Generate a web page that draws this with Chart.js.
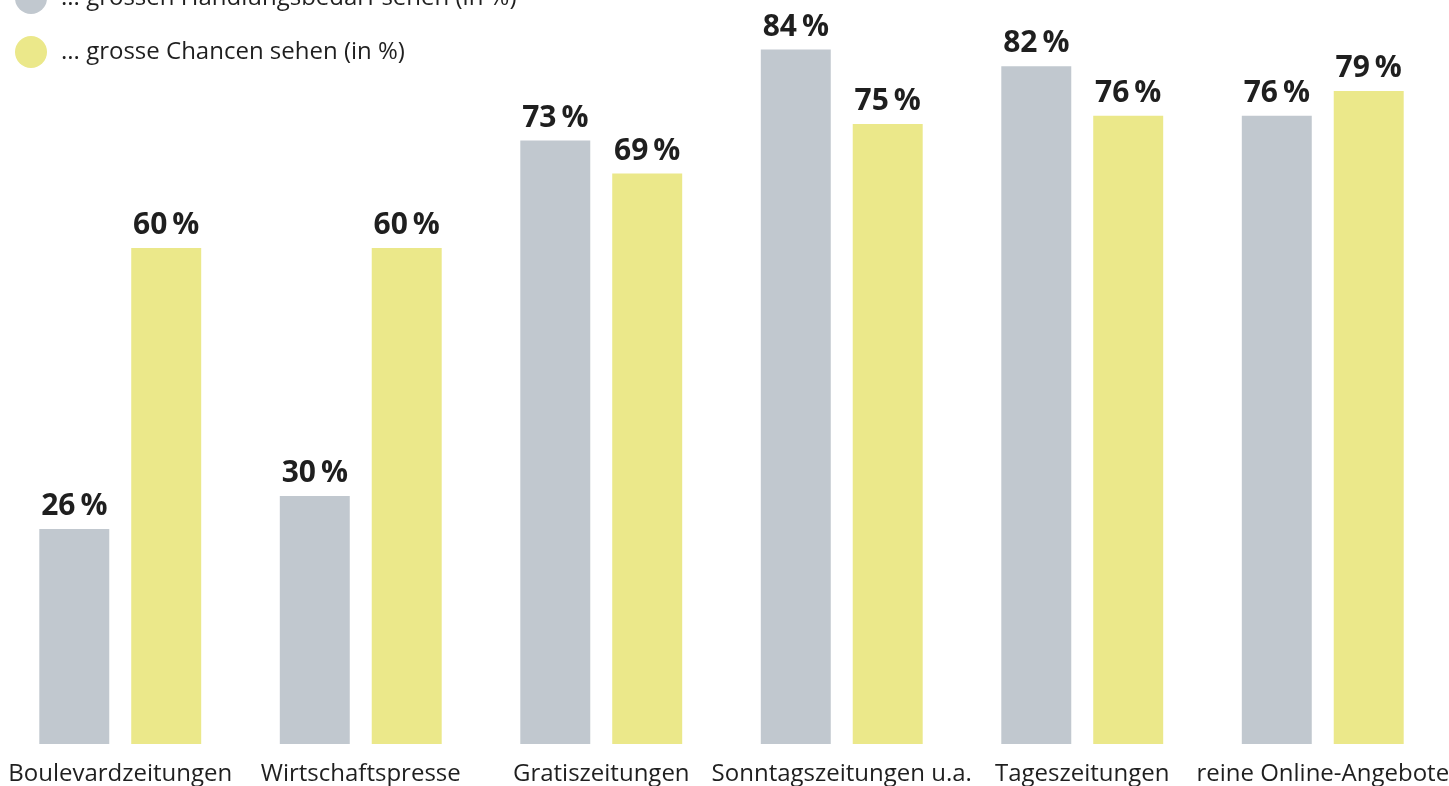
<!DOCTYPE html>
<html>
<head>
<meta charset="utf-8">
<script src="https://cdn.jsdelivr.net/npm/chart.js@4"></script>
<style>
  html, body { margin: 0; padding: 0; background: #ffffff; }
  #wrap { position: relative; width: 1449px; height: 786px; overflow: hidden; }
  canvas { display: block; }
</style>
</head>
<body>
<div id="wrap"><canvas id="chart" width="1449" height="786"></canvas></div>
<script>
// Kategorien und Werte (in %)
const categories = [
  'Boulevardzeitungen',
  'Wirtschaftspresse',
  'Gratiszeitungen',
  'Sonntagszeitungen u.a.',
  'Tageszeitungen',
  'reine Online-Angebote'
];
const handlungsbedarf = [26, 30, 73, 84, 82, 76];
const chancen = [60, 60, 69, 75, 76, 79];
const seriesNames = [
  '... grossen Handlungsbedarf sehen (in %)',
  '... grosse Chancen sehen (in %)'
];

const GREY = '#c1c8cf';
const YELLOW = '#ebe88a';
const TEXT = '#1f1f1f';
const FONT = '"Open Sans", "Noto Sans", sans-serif';

// Wertbeschriftungen über den Balken
const valueLabels = {
  id: 'valueLabels',
  afterDatasetsDraw(chart) {
    const ctx = chart.ctx;
    ctx.save();
    ctx.font = 'bold 30px ' + FONT;
    ctx.fillStyle = TEXT;
    ctx.textAlign = 'center';
    ctx.textBaseline = 'alphabetic';
    chart.data.datasets.forEach((ds, i) => {
      chart.getDatasetMeta(i).data.forEach((bar, j) => {
        ctx.fillText(ds.data[j] + '\u2009%', bar.x, bar.y - 14);
      });
    });
    ctx.restore();
  }
};

// Legende oben links
const topLegend = {
  id: 'topLegend',
  afterDraw(chart) {
    const ctx = chart.ctx;
    const colors = [GREY, YELLOW];
    ctx.save();
    ctx.font = '24px ' + FONT;
    ctx.textAlign = 'left';
    ctx.textBaseline = 'middle';
    seriesNames.forEach((name, i) => {
      const cy = -2 + i * 54;
      ctx.fillStyle = colors[i];
      ctx.beginPath();
      ctx.arc(31, cy, 16, 0, Math.PI * 2);
      ctx.fill();
      ctx.fillStyle = TEXT;
      ctx.fillText(name, 61, cy);
    });
    ctx.restore();
  }
};

new Chart(document.getElementById('chart'), {
  type: 'bar',
  data: {
    labels: categories,
    datasets: [
      { label: seriesNames[0], data: handlungsbedarf, backgroundColor: GREY },
      { label: seriesNames[1], data: chancen, backgroundColor: YELLOW }
    ]
  },
  options: {
    responsive: false,
    animation: false,
    events: [],
    layout: { padding: { left: 0, right: 6, top: 0, bottom: 0 } },
    categoryPercentage: 0.7645,
    barPercentage: 0.761,
    plugins: {
      legend: { display: false },
      tooltip: { enabled: false }
    },
    scales: {
      x: {
        grid: { display: false, drawTicks: false },
        border: { display: false },
        ticks: {
          color: TEXT,
          font: { family: FONT, size: 24 },
          padding: 16,
          maxRotation: 0,
          autoSkip: false
        },
        afterFit(scale) {
          scale.height = 42;
          scale.paddingLeft = 0;
          scale.paddingRight = 0;
        }
      },
      y: {
        display: false,
        min: 0,
        max: 90
      }
    }
  },
  plugins: [valueLabels, topLegend]
});
</script>
</body>
</html>
